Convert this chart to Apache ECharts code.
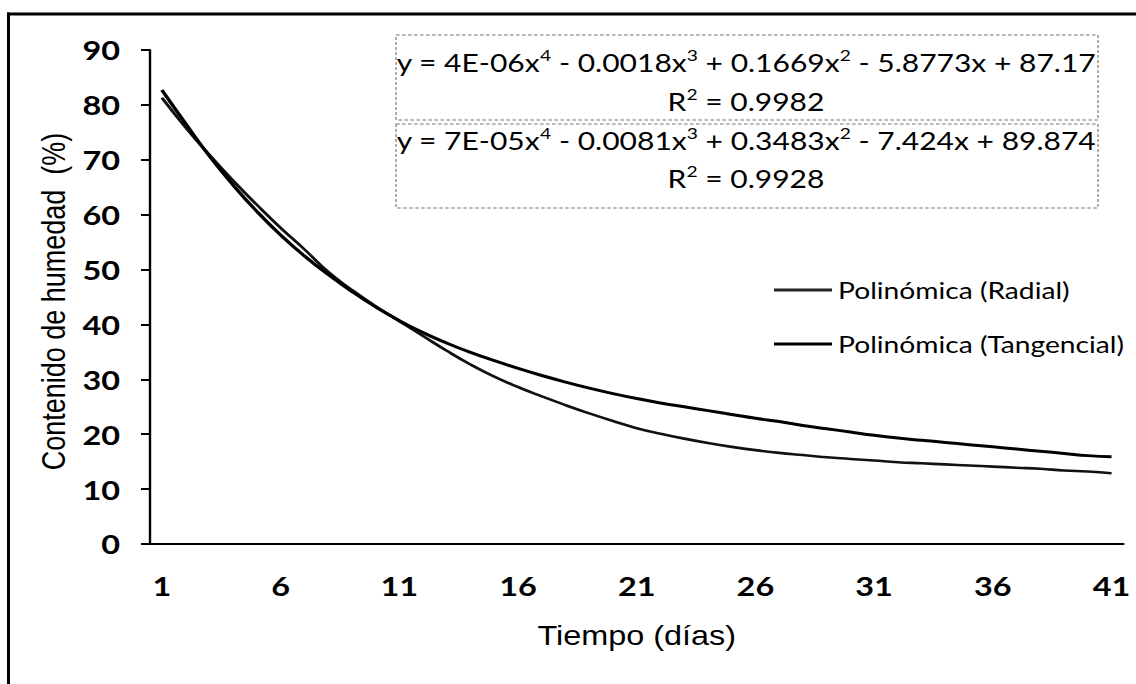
<!DOCTYPE html>
<html>
<head>
<meta charset="utf-8">
<script src="https://cdn.jsdelivr.net/npm/echarts@6/dist/echarts.min.js"></script>
<style>
  html, body { margin: 0; padding: 0; background: #fff; overflow: hidden; }
  /* the figure is drawn at a narrower width and widened horizontally */
  #chart { width: 946.67px; height: 684px; transform: scaleX(1.2); transform-origin: 0 0; }
</style>
</head>
<body>
<div id="chart"></div>
<script>
// Días de secado (eje X)
const dias = [1, 2, 3, 4, 5, 6, 7, 8, 9, 10, 11, 12, 13, 14, 15, 16, 17, 18, 19, 20,
  21, 22, 23, 24, 25, 26, 27, 28, 29, 30, 31, 32, 33, 34, 35, 36, 37, 38, 39, 40, 41];

// Contenido de humedad (%) de la línea de tendencia radial
const radial = [81.3, 75.9, 70.9, 66.2, 61.8, 57.6, 53.7, 49.6, 46.3, 43.3,
  40.6, 37.9, 35.2, 32.7, 30.5, 28.6, 26.9, 25.3, 23.8, 22.4,
  21.1, 20.1, 19.2, 18.4, 17.7, 17.1, 16.6, 16.2, 15.8, 15.5,
  15.2, 14.9, 14.7, 14.5, 14.3, 14.1, 13.9, 13.7, 13.4, 13.2, 12.9];

// Contenido de humedad (%) de la línea de tendencia tangencial
const tangencial = [82.7, 76.6, 70.7, 65.4, 60.6, 56.3, 52.5, 49.1, 46.0, 43.2,
  40.7, 38.5, 36.6, 34.9, 33.4, 32.0, 30.7, 29.5, 28.4, 27.4,
  26.5, 25.7, 25.0, 24.3, 23.6, 22.9, 22.3, 21.6, 21.0, 20.4,
  19.8, 19.3, 18.9, 18.5, 18.1, 17.7, 17.3, 16.9, 16.5, 16.1, 15.9];

const yTicks = { min: 0, max: 90, step: 10 };
const seriesNames = ['Polinómica (Radial)', 'Polinómica (Tangencial)'];
const ecuaciones = [
  { terms: ['y = 4E-06x', '4', ' - 0.0018x', '3', ' + 0.1669x', '2', ' - 5.8773x + 87.17'], r2: '0.9982' },
  { terms: ['y = 7E-05x', '4', ' - 0.0081x', '3', ' + 0.3483x', '2', ' - 7.424x + 89.874'], r2: '0.9928' }
];

const SX = 1.2;              // horizontal widening applied through CSS
const px = v => v / SX;      // screen x -> drawing x

const calibri = 'Lato, "Open Sans", sans-serif';
const arial = '"Liberation Sans", Arial, sans-serif';

const richEq = {
  n: { fontSize: 25, fontFamily: calibri, color: '#000', lineHeight: 30 },
  s: { fontSize: 16, fontFamily: calibri, color: '#000', lineHeight: 30, verticalAlign: 'top' }
};
function eqText(terms) {
  return terms.map((t, i) => (i % 2 === 0 ? '{n|' : '{s|') + t + '}').join('');
}
function r2Text(v) {
  return '{n|R}{s|2}{n| = ' + v + '}';
}

const chart = echarts.init(document.getElementById('chart'), null, { renderer: 'svg' });

const boxes = [
  { y: 35, h: 85, eqY: 62, r2Y: 101 },
  { y: 124, h: 84, eqY: 140, r2Y: 178 }
];
const graphics = [
  // outer frame (top and left edges)
  { type: 'line', shape: { x1: px(7), y1: 14, x2: px(1136), y2: 14 }, style: { stroke: '#000', lineWidth: 3 } },
  { type: 'line', shape: { x1: px(8.5), y1: 12.5, x2: px(8.5), y2: 684 }, style: { stroke: '#000', lineWidth: 2.5 } }
];
boxes.forEach((b, i) => {
  graphics.push({
    type: 'rect', shape: { x: px(396), y: b.y, width: px(1098) - px(396), height: b.h },
    style: { fill: '#fff', stroke: '#777', lineWidth: 1, lineDash: [3, 2] }
  });
  graphics.push({
    type: 'text', x: px(746), y: b.eqY,
    style: { text: eqText(ecuaciones[i].terms), rich: richEq, align: 'center', verticalAlign: 'middle' }
  });
  graphics.push({
    type: 'text', x: px(746), y: b.r2Y,
    style: { text: r2Text(ecuaciones[i].r2), rich: richEq, align: 'center', verticalAlign: 'middle' }
  });
});

chart.setOption({
  animation: false,
  backgroundColor: '#fff',
  grid: { left: px(150), right: px(13), top: 50, bottom: 140, containLabel: false },
  legend: {
    orient: 'vertical',
    left: px(774),
    top: 277,
    padding: 0,
    itemWidth: px(58),
    itemHeight: 3,
    itemGap: 28,
    icon: 'rect',
    data: seriesNames,
    textStyle: { fontFamily: calibri, fontSize: 23.5, color: '#000', lineHeight: 26 }
  },
  xAxis: {
    type: 'category',
    data: dias,
    boundaryGap: true,
    name: 'Tiempo (días)',
    nameLocation: 'middle',
    nameGap: 78,
    nameTextStyle: { fontFamily: arial, fontSize: 27, color: '#000' },
    axisLine: { show: true, lineStyle: { color: '#000', width: 2 } },
    axisTick: { show: false },
    axisLabel: {
      interval: i => i % 5 === 0,
      margin: 28,
      fontFamily: calibri, fontSize: 27, fontWeight: 'bold', color: '#000'
    },
    splitLine: { show: false }
  },
  yAxis: {
    type: 'value',
    min: yTicks.min,
    max: yTicks.max,
    interval: yTicks.step,
    name: 'Contenido de humedad  (%)',
    nameLocation: 'middle',
    nameGap: 46,
    nameTextStyle: { fontFamily: arial, fontSize: 27, color: '#000', padding: [0, 9, 0, 0] },
    axisLine: { show: true, lineStyle: { color: '#000', width: 2 } },
    axisTick: { show: true, inside: false, length: px(9), lineStyle: { color: '#000', width: 2 } },
    axisLabel: { margin: px(30), fontFamily: calibri, fontSize: 27, fontWeight: 'bold', color: '#000' },
    splitLine: { show: false }
  },
  series: [
    {
      name: seriesNames[0], type: 'line', data: radial, smooth: true,
      showSymbol: false, symbol: 'none',
      lineStyle: { color: '#111', width: 2.6 }, itemStyle: { color: '#222' }
    },
    {
      name: seriesNames[1], type: 'line', data: tangencial, smooth: true,
      showSymbol: false, symbol: 'none',
      lineStyle: { color: '#000', width: 3 }, itemStyle: { color: '#000' }
    }
  ],
  graphic: graphics
});
</script>
</body>
</html>
